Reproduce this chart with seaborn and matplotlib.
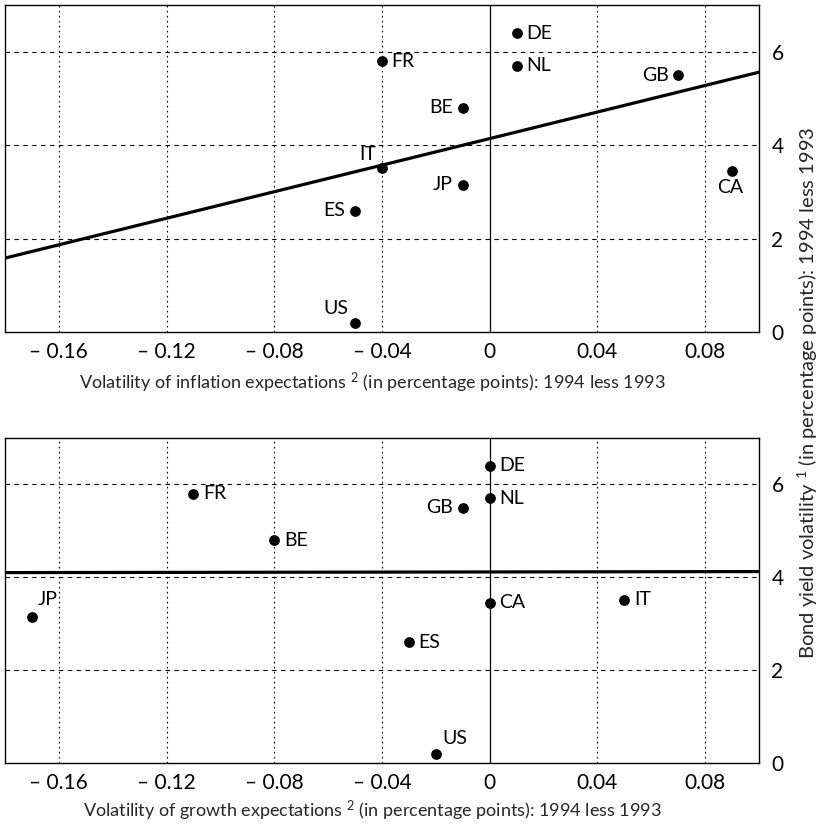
import matplotlib
matplotlib.use("Agg")
import matplotlib.pyplot as plt
import seaborn as sns
import pandas as pd

# ---- data ----
countries = ["DE", "NL", "GB", "FR", "BE", "IT", "CA", "JP", "ES", "US"]
bond_yield_vol = [6.4, 5.7, 5.5, 5.8, 4.8, 3.52, 3.45, 3.15, 2.6, 0.2]
inflation_vol = [0.01, 0.01, 0.07, -0.04, -0.01, -0.04, 0.09, -0.01, -0.05, -0.05]
growth_vol = [0.0, 0.0, -0.01, -0.11, -0.08, 0.05, 0.0, -0.17, -0.03, -0.02]

x_ticks = [-0.16, -0.12, -0.08, -0.04, 0, 0.04, 0.08]
x_tick_labels = ["\u2013 0.16", "\u2013 0.12", "\u2013 0.08", "\u2013 0.04", "0", "0.04", "0.08"]
y_ticks = [0, 2, 4, 6]
y_tick_labels = ["0", "2", "4", "6"]

xlabel_top = "Volatility of inflation expectations $^{2}$ (in percentage points): 1994 less 1993"
xlabel_bottom = "Volatility of growth expectations $^{2}$ (in percentage points): 1994 less 1993"
ylabel = "Bond yield volatility $^{1}$ (in percentage points): 1994 less 1993"

df = pd.DataFrame({"country": countries, "bond": bond_yield_vol,
                   "inflation": inflation_vol, "growth": growth_vol})

# ---- style ----
sns.set_style("white")
plt.rcParams["font.family"] = ["Lato", "DejaVu Sans"]
plt.rcParams["mathtext.fontset"] = "custom"
plt.rcParams["mathtext.rm"] = "Lato"
plt.rcParams["mathtext.it"] = "Lato"

fig = plt.figure(figsize=(8.4, 8.31), dpi=100)
ax_top = fig.add_axes([5 / 840, 1 - 332 / 831, 754 / 840, 327 / 831])
ax_bot = fig.add_axes([5 / 840, 1 - 763 / 831, 754 / 840, 325 / 831])

# label placement: (dx, dy in points, ha, va)
place_top = {
    "DE": (7, 0, "left", "center"), "NL": (7, 0, "left", "center"),
    "GB": (-7, 0, "right", "center"), "FR": (7, 0, "left", "center"),
    "BE": (-7, 0, "right", "center"), "IT": (-4, 3, "right", "bottom"),
    "CA": (-1, -6, "center", "top"), "JP": (-7, 0, "right", "center"),
    "ES": (-7, 0, "right", "center"), "US": (-5, 4, "right", "bottom"),
}
place_bot = {
    "DE": (7, 0, "left", "center"), "NL": (7, 0, "left", "center"),
    "GB": (-7, 0, "right", "center"), "FR": (7, 0, "left", "center"),
    "BE": (7, 0, "left", "center"), "IT": (7, 0, "left", "center"),
    "CA": (7, 0, "left", "center"), "JP": (4, 6, "left", "bottom"),
    "ES": (7, 0, "left", "center"), "US": (5, 5, "left", "bottom"),
}


def draw(ax, xcol, place, xlabel, label_y):
    ax.set_xlim(-0.18, 0.10)
    ax.set_ylim(0, 7)
    ax.set_xticks(x_ticks)
    ax.set_xticklabels(x_tick_labels)
    ax.set_yticks(y_ticks)
    ax.set_yticklabels(y_tick_labels)
    ax.yaxis.tick_right()
    ax.tick_params(axis="both", length=0, labelsize=15, colors="black")
    ax.tick_params(axis="y", pad=9)
    ax.tick_params(axis="x", pad=7)
    # grid
    for yv in y_ticks[1:]:
        ax.axhline(yv, color="black", lw=0.8, ls=(0, (4, 4)), zorder=1)
    for xv in x_ticks:
        if xv == 0:
            ax.axvline(xv, color="black", lw=0.9, ls="-", zorder=1)
        else:
            ax.axvline(xv, color="black", lw=0.8, ls=(0, (1.5, 3)), zorder=1)
    for s in ax.spines.values():
        s.set_color("black")
        s.set_linewidth(1.0)
        s.set_visible(True)
    # regression line across full axis width
    sns.regplot(data=df, x=xcol, y="bond", ax=ax, scatter=False, ci=None,
                truncate=False, line_kws=dict(color="black", lw=2.3, zorder=3))
    ax.set_xlim(-0.18, 0.10)
    sns.scatterplot(data=df, x=xcol, y="bond", ax=ax, color="black", s=60,
                    edgecolor="black", linewidth=0, zorder=4)
    for _, r in df.iterrows():
        dx, dy, ha, va = place[r["country"]]
        ax.annotate(r["country"], (r[xcol], r["bond"]), xytext=(dx, dy),
                    textcoords="offset points", ha=ha, va=va, fontsize=14,
                    color="black")
    ax.set_xlabel(xlabel, fontsize=13)
    ax.xaxis.set_label_coords(0.487, label_y)
    ax.set_ylabel("")


draw(ax_top, "inflation", place_top, xlabel_top, -0.12)
draw(ax_bot, "growth", place_bot, xlabel_bottom, -0.11)

fig.text(808 / 840, 1 - 393 / 831, ylabel, rotation=90, ha="center", va="center",
         fontsize=14.5)

fig.savefig("out.png", dpi=100)
